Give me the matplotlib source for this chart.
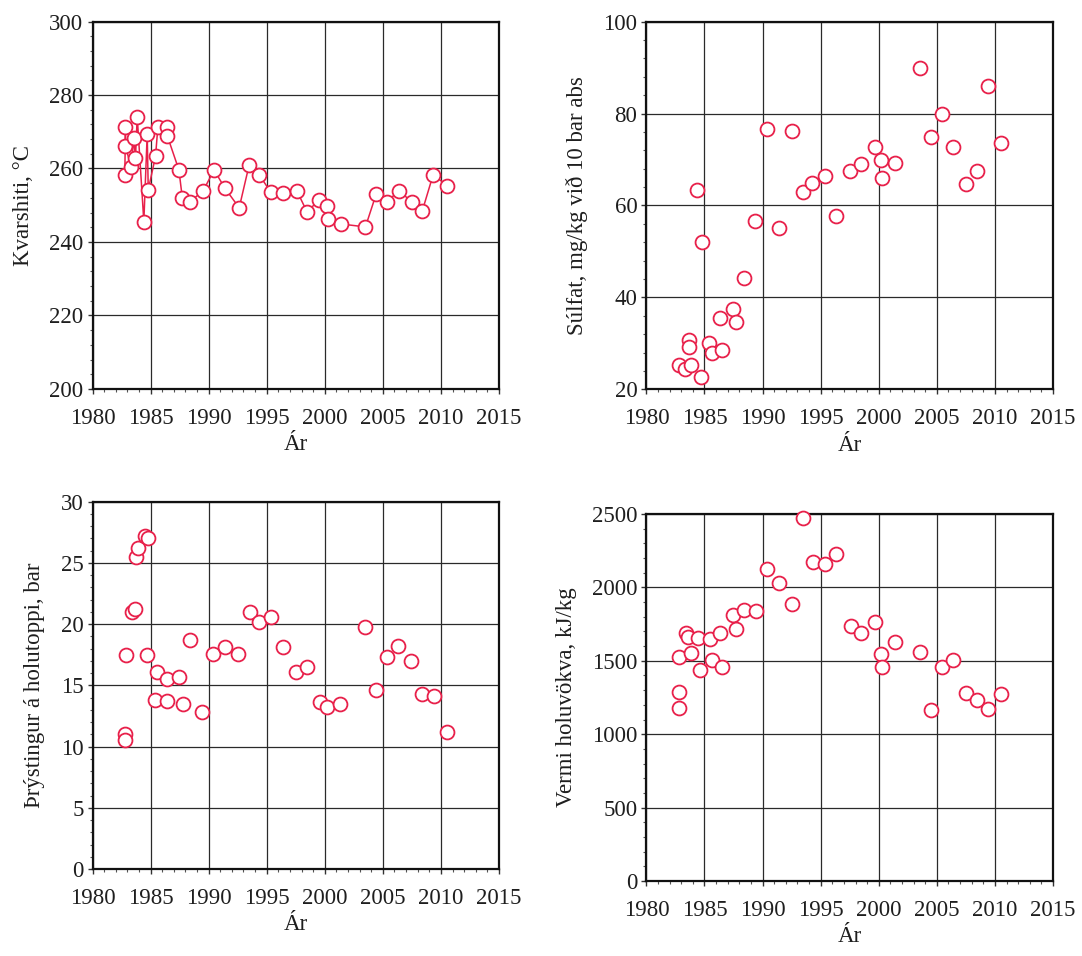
import matplotlib
matplotlib.use("Agg")
import matplotlib.pyplot as plt
from matplotlib.ticker import MultipleLocator

# ---- Data ----
# Panel 1: quartz temperature (line + markers)
kv_year = [1982.78, 1982.84, 1982.84, 1983.33, 1983.56, 1983.70, 1983.85, 1984.42,
           1984.71, 1984.80, 1985.43, 1985.63, 1986.38, 1986.44, 1987.44, 1987.73,
           1988.40, 1989.52, 1990.47, 1991.39, 1992.63, 1993.49, 1994.35, 1995.36,
           1996.37, 1997.60, 1998.47, 1999.53, 2000.20, 2000.31, 2001.41, 2003.50,
           2004.43, 2005.38, 2006.39, 2007.51, 2008.38, 2009.33, 2010.56]
kv_val = [258.1, 271.2, 266.0, 260.4, 268.2, 262.8, 274.1, 245.5,
          269.4, 254.2, 263.4, 271.4, 271.2, 268.9, 259.6, 252.1,
          251.0, 253.9, 259.6, 254.7, 249.3, 261.0, 258.3, 253.5,
          253.3, 253.9, 248.2, 251.5, 249.7, 246.3, 244.9, 244.1,
          253.1, 251.0, 254.0, 250.8, 248.3, 258.3, 255.3]

# Panel 2: sulphate
su_year = [1982.82, 1983.33, 1983.82, 1983.68, 1983.68, 1984.34, 1984.69, 1984.78,
           1985.35, 1985.64, 1986.36, 1986.50, 1987.42, 1987.71, 1988.37, 1989.38,
           1990.39, 1991.40, 1992.55, 1993.50, 1994.27, 1995.34, 1996.35, 1997.52,
           1998.50, 1999.65, 2000.17, 2000.32, 2001.38, 2003.54, 2004.49, 2005.41,
           2006.36, 2007.51, 2008.43, 2009.38, 2010.53]
su_val = [25.3, 24.4, 25.3, 30.7, 29.3, 63.4, 22.7, 52.1,
          30.0, 27.8, 35.5, 28.6, 37.5, 34.6, 44.2, 56.6,
          76.6, 55.0, 76.2, 63.0, 65.0, 66.5, 57.8, 67.4,
          69.0, 72.8, 69.9, 65.9, 69.2, 89.9, 75.0, 79.9,
          72.8, 64.7, 67.4, 85.9, 73.7]

# Panel 3: wellhead pressure
pr_year = [1982.84, 1982.84, 1982.90, 1983.42, 1983.65, 1983.71, 1983.91, 1984.51,
           1984.72, 1984.80, 1985.37, 1985.58, 1986.38, 1986.44, 1987.44, 1987.78,
           1988.39, 1989.45, 1990.37, 1991.40, 1992.56, 1993.53, 1994.34, 1995.41,
           1996.36, 1997.50, 1998.43, 1999.57, 2000.20, 2001.30, 2003.48, 2004.43,
           2005.36, 2006.29, 2007.45, 2008.35, 2009.37, 2010.50]
pr_val = [11.06, 10.5, 17.5, 21.0, 21.25, 25.5, 26.2, 27.2,
          17.5, 27.0, 13.8, 16.1, 13.7, 15.55, 15.7, 13.5,
          18.7, 12.8, 17.6, 18.1, 17.6, 21.0, 20.2, 20.6,
          18.1, 16.1, 16.5, 13.6, 13.2, 13.5, 19.8, 14.6,
          17.3, 18.2, 17.0, 14.3, 14.1, 11.2]

# Panel 4: enthalpy
en_year = [1982.82, 1982.82, 1982.82, 1983.40, 1983.55, 1983.83, 1984.48, 1984.63,
           1985.44, 1985.64, 1986.30, 1986.50, 1987.42, 1987.71, 1988.37, 1989.44,
           1990.39, 1991.40, 1992.55, 1993.50, 1994.33, 1995.36, 1996.35, 1997.58,
           1998.50, 1999.65, 2000.17, 2000.32, 2001.38, 2003.54, 2004.49, 2005.41,
           2006.36, 2007.51, 2008.43, 2009.38, 2010.53]
en_val = [1528, 1285, 1180, 1687, 1660, 1555, 1653, 1437,
          1646, 1505, 1691, 1460, 1812, 1718, 1846, 1839,
          2123, 2027, 1885, 2470, 2171, 2159, 2228, 1737,
          1691, 1766, 1546, 1460, 1626, 1562, 1165, 1460,
          1505, 1283, 1233, 1170, 1272]

x_ticks = [1980, 1985, 1990, 1995, 2000, 2005, 2010, 2015]
x_label = "Ár"
y_labels = ["Kvarshiti, °C", "Súlfat, mg/kg við 10 bar abs",
            "Þrýstingur á holutoppi, bar", "Vermi holuvökva, kJ/kg"]

# ---- Style ----
plt.rcParams['font.family'] = ['Liberation Serif', 'DejaVu Serif']
RED = '#e8204a'
TXT = '#1e1e1e'
FS = 16.5

fig = plt.figure(figsize=(10.82, 9.56), dpi=100)

W, H = 1082, 956
def add(left, top, right, bottom):
    return fig.add_axes([left / W, (H - bottom) / H, (right - left) / W, (bottom - top) / H])

axes = [add(92.5, 21.5, 499, 389),
        add(646.4, 21.7, 1053, 389.3),
        add(92.5, 501.7, 499, 869),
        add(646.4, 514, 1053, 881)]

specs = [
    (kv_year, kv_val, (200, 300), 20, 4, True),
    (su_year, su_val, (20, 100), 20, 4, False),
    (pr_year, pr_val, (0, 30), 5, 1, False),
    (en_year, en_val, (0, 2500), 500, 100, False),
]

for ax, (xs, ys, ylim, major, minor, line), ylab in zip(axes, specs, y_labels):
    ax.set_xlim(1980, 2015)
    ax.set_ylim(*ylim)
    ax.set_xticks(x_ticks)
    ax.xaxis.set_minor_locator(MultipleLocator(1))
    ax.yaxis.set_major_locator(MultipleLocator(major))
    ax.yaxis.set_minor_locator(MultipleLocator(minor))
    ax.grid(True, which='major', color='#2a2a2a', linewidth=0.9)
    ax.set_axisbelow(True)
    ax.tick_params(which='major', direction='out', length=3.5, width=1.0,
                   labelsize=FS, colors='#333333', labelcolor=TXT)
    ax.tick_params(axis='x', which='major', pad=10)
    ax.tick_params(axis='y', which='major', pad=3)
    ax.tick_params(which='minor', direction='out', length=2.2, width=0.8, colors='#555555')
    for s in ax.spines.values():
        s.set_linewidth(1.6)
        s.set_color('#111111')
    ax.plot(xs, ys, linestyle='-' if line else 'none', color=RED, linewidth=1.1,
            marker='o', markersize=10, markerfacecolor='white',
            markeredgecolor=RED, markeredgewidth=1.3, clip_on=False, zorder=3)
    ax.set_xlabel(x_label, fontsize=FS, color=TXT, labelpad=4)
    ax.set_ylabel(ylab, fontsize=FS, color=TXT, labelpad=11)

fig.savefig("out.png", dpi=100)
